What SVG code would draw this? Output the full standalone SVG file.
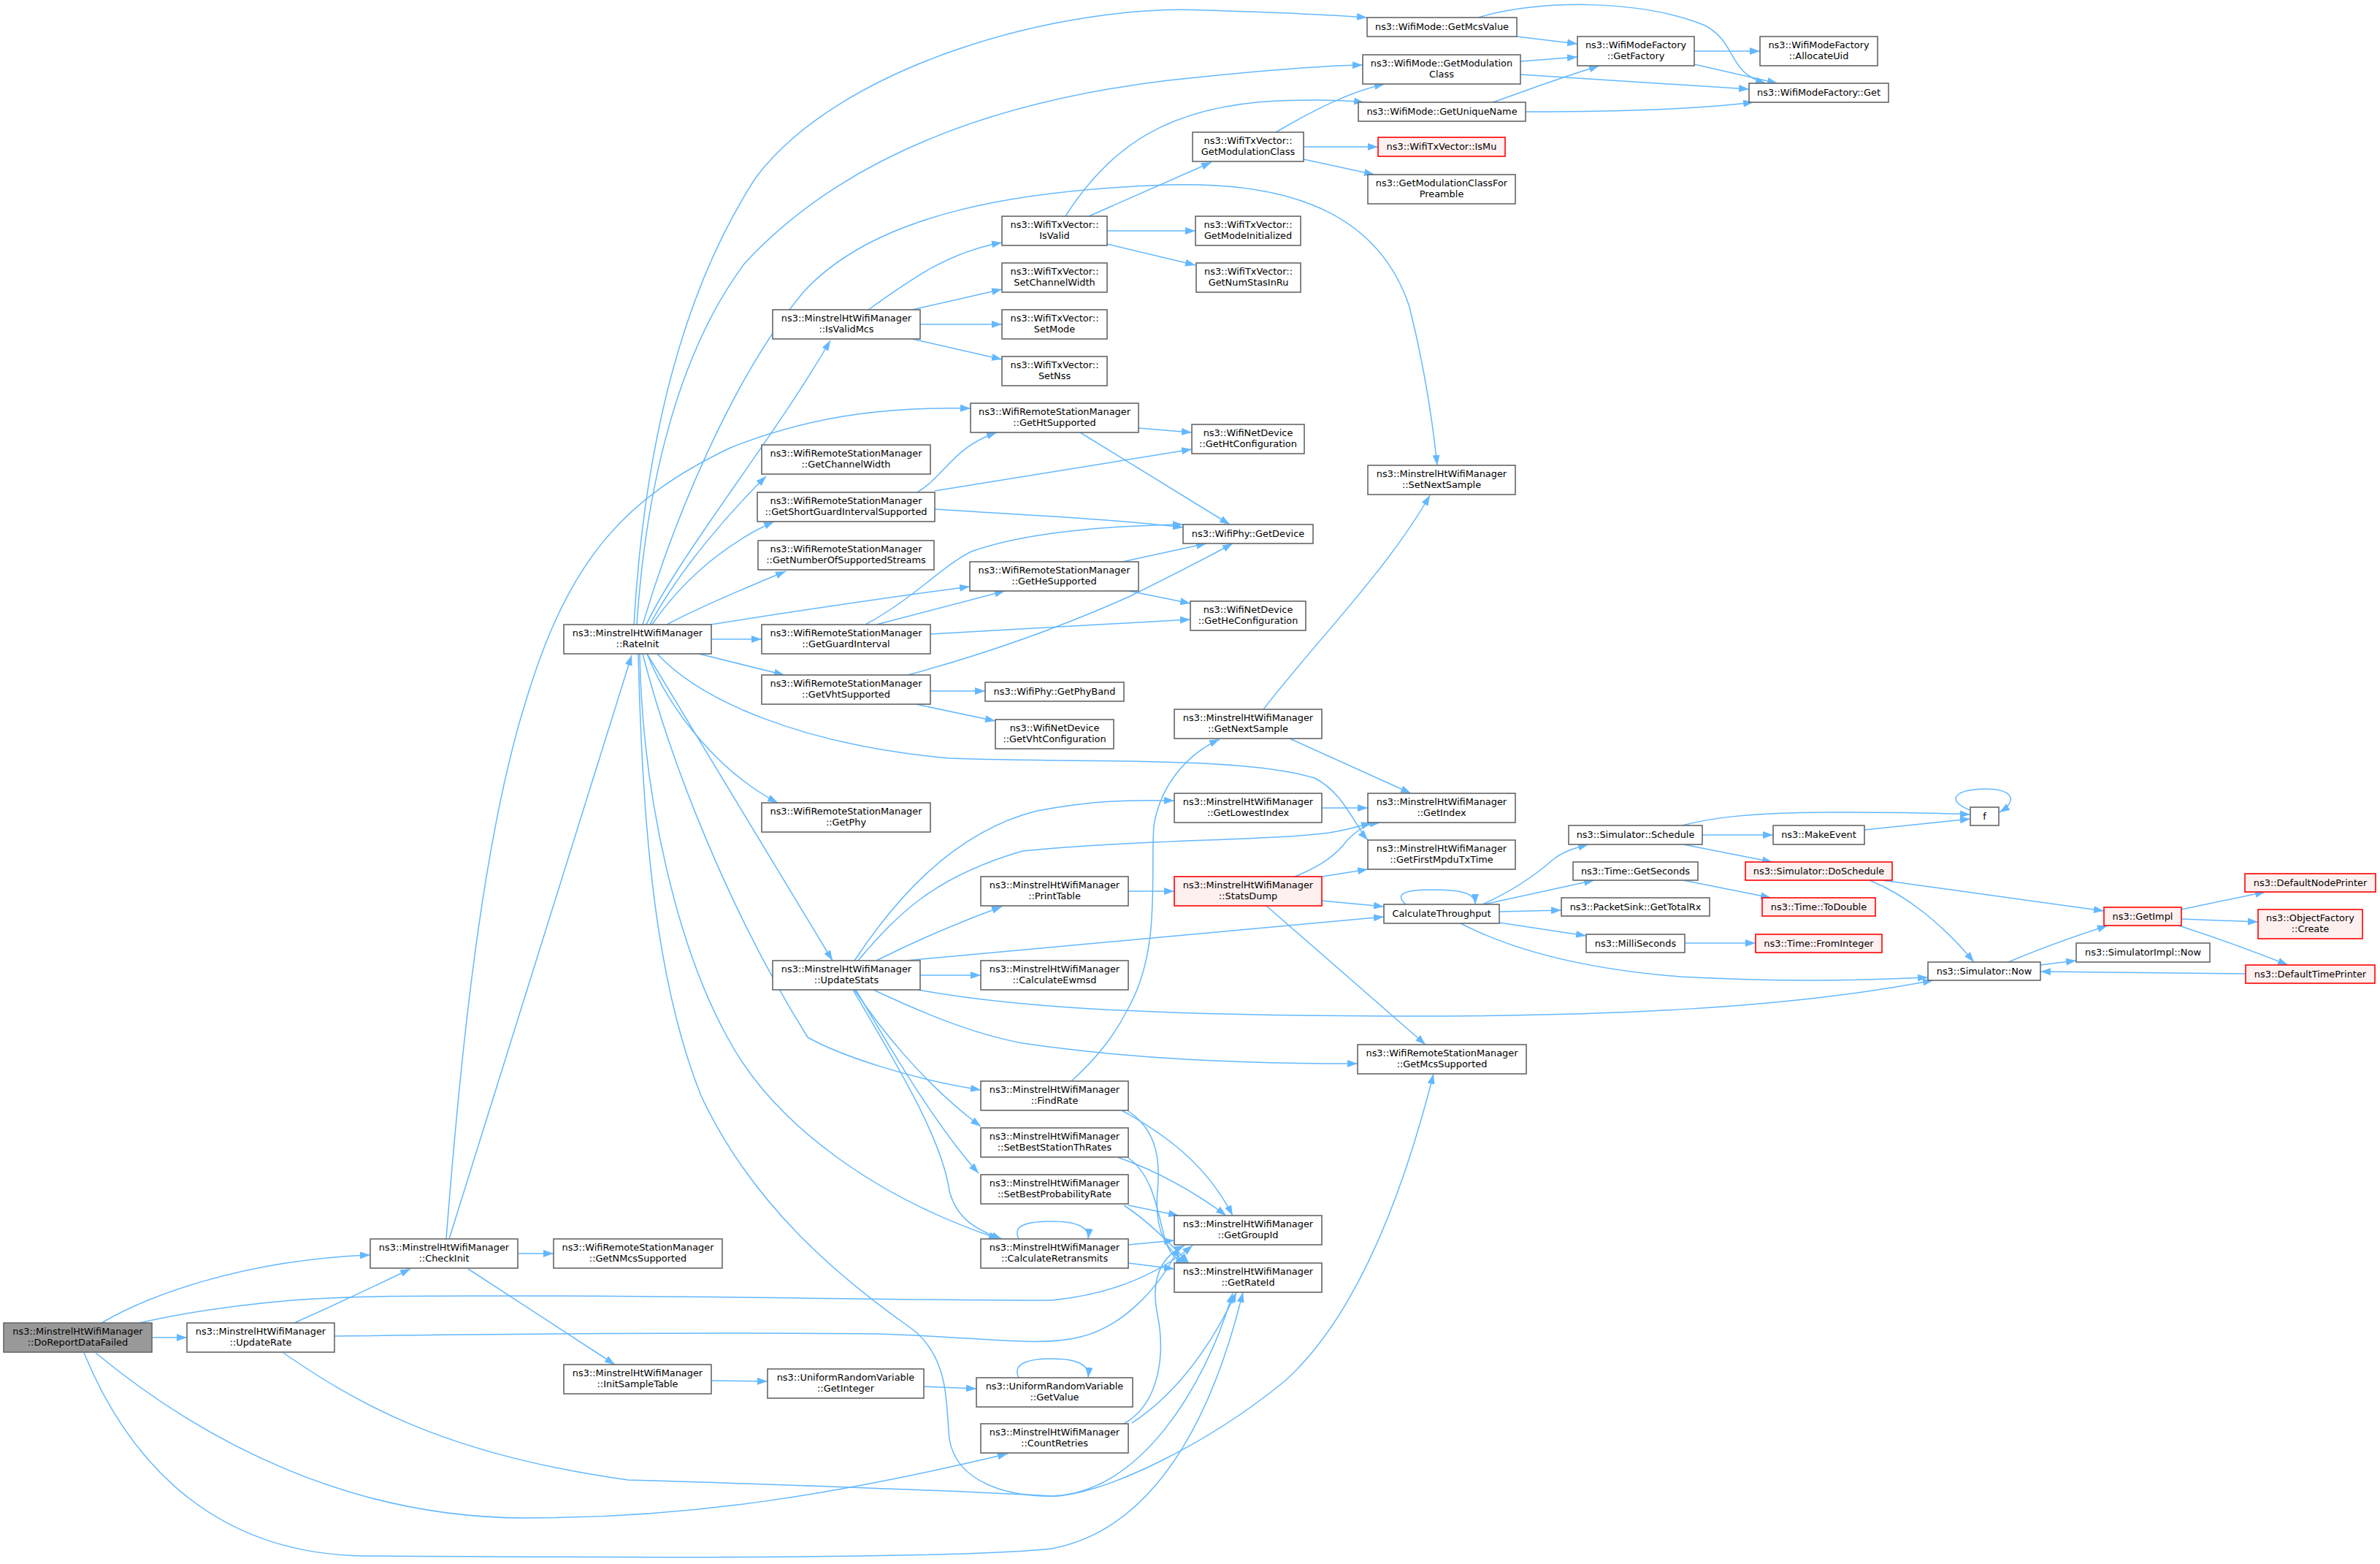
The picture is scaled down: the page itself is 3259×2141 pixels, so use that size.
<svg xmlns="http://www.w3.org/2000/svg" width="3259" height="2141" viewBox="0 0 3259 2141">
<style>
rect{fill:#fff;stroke:#666;stroke-width:1.6}
.r rect{fill:#fff0f0;stroke:#f00}
.g rect{fill:#999}
text{font-family:"DejaVu Sans","Liberation Sans",sans-serif;font-size:12.9px;text-anchor:middle;fill:#000}
#edges path{fill:none;stroke:#63b8ff;stroke-width:1.5;marker-end:url(#a)}
</style>
<defs>
<marker id="a" viewBox="0 0 14 10" refX="14" refY="5" markerWidth="14" markerHeight="10" markerUnits="userSpaceOnUse" orient="auto"><path d="M0,0L14,5L0,10z" fill="#63b8ff"/></marker>
</defs>
<rect x="0" y="0" width="3259" height="2141" style="fill:#fff;stroke:none"/>
<g id="edges">
<path d="M139,1811 C200,1775 330,1725 507,1718"/>
<path d="M208,1831 L256,1831"/>
<path d="M191,1811 C260,1795 330,1786 400,1780 C500,1773 600,1774 720,1774 C1000,1774 1200,1780 1440,1780 C1520,1772 1585,1745 1633,1705"/>
<path d="M131,1852 C280,1975 480,2078 720,2078 C950,2078 1150,2045 1380,1990"/>
<path d="M115,1852 C180,2010 300,2128 500,2130 C800,2132 1300,2135 1440,2120 C1600,2090 1670,1900 1702,1769"/>
<path d="M403,1811 C450,1790 510,1762 562,1737"/>
<path d="M458,1829 C700,1826 1000,1824 1200,1826 C1350,1830 1420,1845 1480,1830 C1540,1815 1590,1760 1615,1706"/>
<path d="M388,1852 C480,1915 600,1990 860,2026 C1000,2030 1300,2040 1440,2048 C1560,2045 1650,1900 1688,1770"/>
<path d="M709,1716 L758,1716"/>
<path d="M641,1737 L842,1868"/>
<path d="M615,1696 L865,897"/>
<path d="M611,1696 C630,1450 660,1150 720,960 C780,760 860,680 1000,613 C1120,565 1230,557 1329,559"/>
<path d="M974,1890 L1051,1891"/>
<path d="M1265,1898 L1337,1901"/>
<path d="M1395,1886 C1385,1866 1410,1860 1440,1860 C1475,1860 1492,1868 1490,1886"/>
<path d="M1539,1949 C1590,1920 1595,1850 1585,1800 C1575,1750 1590,1720 1622,1705"/>
<path d="M1550,1948 C1600,1915 1650,1860 1693,1769"/>
<path d="M868,855 C880,650 920,420 1035,243 C1150,90 1450,5 1650,14 C1750,17 1820,20 1872,24"/>
<path d="M872,855 C885,660 930,480 1020,360 C1150,220 1350,140 1600,110 C1720,97 1800,90 1866,89"/>
<path d="M880,855 C920,720 1000,520 1100,400 C1200,290 1400,260 1600,253 C1780,248 1890,300 1930,420 C1950,500 1962,580 1968,637"/>
<path d="M885,855 C930,760 1060,600 1137,466"/>
<path d="M890,855 C930,780 1000,700 1049,652"/>
<path d="M893,855 C930,800 990,745 1060,714"/>
<path d="M913,855 C960,830 1020,805 1076,782"/>
<path d="M973,855 C1100,835 1200,820 1328,803"/>
<path d="M974,875 L1043,875"/>
<path d="M957,895 L1074,924"/>
<path d="M900,895 C960,960 1100,1020 1300,1038 C1500,1045 1700,1035 1800,1065 C1840,1085 1855,1130 1873,1150"/>
<path d="M886,895 C920,980 990,1060 1065,1099"/>
<path d="M886,895 L1140,1315"/>
<path d="M880,895 C920,1050 1000,1250 1106,1420 C1150,1445 1250,1478 1343,1492"/>
<path d="M876,895 C880,1100 930,1300 996,1420 C1060,1540 1200,1640 1368,1696"/>
<path d="M874,895 C880,1150 900,1350 960,1500 C1030,1650 1150,1750 1250,1820 C1300,1860 1295,1920 1300,1970 C1310,2030 1380,2050 1450,2048 C1520,2040 1650,1980 1760,1890 C1870,1790 1930,1600 1963,1470"/>
<path d="M1256,674 C1295,650 1305,612 1365,592"/>
<path d="M1280,672 L1632,615"/>
<path d="M1280,697 C1400,705 1520,710 1620,722"/>
<path d="M1559,586 L1632,592"/>
<path d="M1479,592 L1684,718"/>
<path d="M1537,769 L1652,744"/>
<path d="M1541,808 L1630,826"/>
<path d="M1200,855 L1376,809"/>
<path d="M1185,855 C1250,820 1290,775 1330,755 C1400,730 1500,720 1620,718"/>
<path d="M1274,868 L1630,848"/>
<path d="M1243,924 C1350,895 1450,860 1550,815 C1610,785 1650,765 1688,744"/>
<path d="M1274,946 L1349,946"/>
<path d="M1254,964 L1363,987"/>
<path d="M1189,424 C1250,380 1300,345 1372,332"/>
<path d="M1249,424 L1372,396"/>
<path d="M1260,444 L1372,444"/>
<path d="M1249,464 L1372,492"/>
<path d="M1491,296 L1659,222"/>
<path d="M1516,316 L1637,316"/>
<path d="M1516,334 L1637,363"/>
<path d="M1459,296 C1520,200 1600,145 1750,138 C1810,136 1840,137 1868,140"/>
<path d="M1747,181 C1800,150 1850,125 1896,115"/>
<path d="M1785,201 L1887,201"/>
<path d="M1785,218 L1882,239"/>
<path d="M2077,50 L2160,60"/>
<path d="M2024,24 C2110,-2 2250,0 2335,35 C2380,60 2365,100 2418,114"/>
<path d="M2082,84 L2160,78"/>
<path d="M2082,102 L2395,122"/>
<path d="M2044,140 C2080,128 2110,115 2190,90"/>
<path d="M2089,153 C2200,153 2320,150 2401,140"/>
<path d="M2320,70 L2410,70"/>
<path d="M2320,88 L2434,114"/>
<path d="M1730,971 C1800,880 1900,780 1958,678"/>
<path d="M1766,1011 L1932,1086"/>
<path d="M1467,1480 C1500,1450 1525,1420 1545,1380 C1590,1300 1575,1200 1580,1130 C1590,1070 1630,1030 1670,1012"/>
<path d="M1810,1106 L1873,1106"/>
<path d="M1545,1220 L1608,1220"/>
<path d="M1773,1200 C1810,1185 1830,1170 1845,1150 C1860,1135 1870,1128 1890,1126"/>
<path d="M1810,1200 L1873,1190"/>
<path d="M1810,1233 L1895,1241"/>
<path d="M1734,1240 L1952,1430"/>
<path d="M1170,1315 C1220,1240 1300,1140 1420,1110 C1500,1095 1550,1095 1608,1096"/>
<path d="M1175,1315 C1230,1250 1280,1200 1400,1165 C1550,1150 1750,1150 1820,1140 C1850,1135 1865,1130 1878,1126"/>
<path d="M1200,1315 C1260,1285 1320,1260 1372,1241"/>
<path d="M1240,1315 L1895,1255"/>
<path d="M1259,1335 L1343,1335"/>
<path d="M1257,1355 C1350,1372 1500,1390 1900,1391 C2200,1392 2450,1380 2647,1342"/>
<path d="M1196,1355 C1260,1385 1330,1415 1400,1428 C1550,1450 1700,1456 1859,1456"/>
<path d="M1170,1355 C1200,1400 1260,1480 1343,1542"/>
<path d="M1172,1355 C1210,1420 1280,1540 1340,1606"/>
<path d="M1168,1355 C1230,1460 1290,1560 1300,1630 C1310,1670 1340,1685 1372,1696"/>
<path d="M1395,1696 C1385,1676 1410,1672 1440,1672 C1475,1672 1492,1680 1490,1696"/>
<path d="M1545,1704 L1608,1698"/>
<path d="M1545,1729 L1608,1737"/>
<path d="M1536,1520 C1590,1550 1650,1590 1688,1664"/>
<path d="M1545,1521 C1580,1545 1590,1580 1585,1630 C1580,1690 1600,1715 1628,1729"/>
<path d="M1530,1584 C1590,1605 1640,1635 1679,1664"/>
<path d="M1545,1585 C1580,1610 1585,1660 1595,1695 C1600,1715 1610,1725 1624,1729"/>
<path d="M1545,1650 L1614,1664"/>
<path d="M1539,1650 C1570,1670 1600,1700 1628,1729"/>
<path d="M1925,1238 C1910,1225 1920,1218 1960,1218 C2000,1218 2020,1222 2020,1238"/>
<path d="M2030,1238 C2070,1220 2100,1200 2125,1178 C2140,1165 2160,1160 2175,1156"/>
<path d="M2032,1238 L2183,1205"/>
<path d="M2053,1248 L2138,1246"/>
<path d="M2053,1263 L2172,1281"/>
<path d="M2000,1264 C2060,1295 2150,1325 2300,1337 C2450,1345 2550,1342 2640,1338"/>
<path d="M2331,1143 L2428,1143"/>
<path d="M2305,1156 L2427,1180"/>
<path d="M2303,1130 C2350,1118 2400,1113 2500,1112 C2600,1112 2650,1113 2698,1115"/>
<path d="M2553,1136 L2698,1121"/>
<path d="M2305,1205 L2425,1229"/>
<path d="M2307,1291 L2404,1291"/>
<path d="M2578,1205 L2881,1247"/>
<path d="M2560,1205 C2610,1225 2660,1265 2703,1317"/>
<path d="M2750,1317 C2790,1300 2840,1282 2886,1267"/>
<path d="M2794,1321 L2843,1315"/>
<path d="M2987,1245 L3102,1221"/>
<path d="M2987,1258 L3092,1262"/>
<path d="M2983,1267 C3030,1282 3080,1300 3133,1321"/>
<path d="M3075,1333 L2794,1330"/>
<path d="M2700,1110 C2660,1095 2680,1080 2718,1080 C2755,1080 2765,1095 2738,1112"/>
</g>
<g id="n_doreport" class="g"><rect x="5" y="1811" width="203" height="40"/><text x="106.5" y="1826.5">ns3::MinstrelHtWifiManager</text><text x="106.5" y="1842">::DoReportDataFailed</text></g>
<g id="n_updaterate"><rect x="256" y="1811" width="202" height="40"/><text x="357" y="1826.5">ns3::MinstrelHtWifiManager</text><text x="357" y="1842">::UpdateRate</text></g>
<g id="n_checkinit"><rect x="507" y="1696" width="202" height="40"/><text x="608" y="1711.5">ns3::MinstrelHtWifiManager</text><text x="608" y="1727">::CheckInit</text></g>
<g id="n_getnmcs"><rect x="758" y="1696" width="231" height="40"/><text x="873.5" y="1711.5">ns3::WifiRemoteStationManager</text><text x="873.5" y="1727">::GetNMcsSupported</text></g>
<g id="n_initsample"><rect x="772" y="1868" width="202" height="40"/><text x="873" y="1883.5">ns3::MinstrelHtWifiManager</text><text x="873" y="1899">::InitSampleTable</text></g>
<g id="n_getinteger"><rect x="1051" y="1874" width="214" height="40"/><text x="1158" y="1889.5">ns3::UniformRandomVariable</text><text x="1158" y="1905">::GetInteger</text></g>
<g id="n_getvalue"><rect x="1337" y="1886" width="214" height="40"/><text x="1444" y="1901.5">ns3::UniformRandomVariable</text><text x="1444" y="1917">::GetValue</text></g>
<g id="n_countretries"><rect x="1343" y="1949" width="202" height="40"/><text x="1444" y="1964.5">ns3::MinstrelHtWifiManager</text><text x="1444" y="1980">::CountRetries</text></g>
<g id="n_rateinit"><rect x="772" y="855" width="202" height="40"/><text x="873" y="870.5">ns3::MinstrelHtWifiManager</text><text x="873" y="886">::RateInit</text></g>
<g id="n_isvalidmcs"><rect x="1058" y="424" width="202" height="40"/><text x="1159" y="439.5">ns3::MinstrelHtWifiManager</text><text x="1159" y="455">::IsValidMcs</text></g>
<g id="n_isvalid"><rect x="1372" y="296" width="144" height="40"/><text x="1444" y="311.5">ns3::WifiTxVector::</text><text x="1444" y="327">IsValid</text></g>
<g id="n_setchw"><rect x="1372" y="360" width="144" height="40"/><text x="1444" y="375.5">ns3::WifiTxVector::</text><text x="1444" y="391">SetChannelWidth</text></g>
<g id="n_setmode"><rect x="1372" y="424" width="144" height="40"/><text x="1444" y="439.5">ns3::WifiTxVector::</text><text x="1444" y="455">SetMode</text></g>
<g id="n_setnss"><rect x="1372" y="488" width="144" height="40"/><text x="1444" y="503.5">ns3::WifiTxVector::</text><text x="1444" y="519">SetNss</text></g>
<g id="n_txgetmod"><rect x="1633" y="181" width="152" height="40"/><text x="1709" y="196.5">ns3::WifiTxVector::</text><text x="1709" y="212">GetModulationClass</text></g>
<g id="n_getmodeinit"><rect x="1637" y="296" width="144" height="40"/><text x="1709" y="311.5">ns3::WifiTxVector::</text><text x="1709" y="327">GetModeInitialized</text></g>
<g id="n_getnumstas"><rect x="1638" y="360" width="143" height="40"/><text x="1709.5" y="375.5">ns3::WifiTxVector::</text><text x="1709.5" y="391">GetNumStasInRu</text></g>
<g id="n_ismu" class="r"><rect x="1887" y="188" width="174" height="26"/><text x="1974" y="205">ns3::WifiTxVector::IsMu</text></g>
<g id="n_getmodpre"><rect x="1873" y="239" width="202" height="40"/><text x="1974" y="254.5">ns3::GetModulationClassFor</text><text x="1974" y="270">Preamble</text></g>
<g id="n_getmcsvalue"><rect x="1872" y="24" width="205" height="26"/><text x="1974.5" y="41">ns3::WifiMode::GetMcsValue</text></g>
<g id="n_wmgetmod"><rect x="1866" y="75" width="216" height="40"/><text x="1974" y="90.5">ns3::WifiMode::GetModulation</text><text x="1974" y="106">Class</text></g>
<g id="n_getunique"><rect x="1860" y="140" width="229" height="26"/><text x="1974.5" y="157">ns3::WifiMode::GetUniqueName</text></g>
<g id="n_getfactory"><rect x="2160" y="50" width="160" height="40"/><text x="2240" y="65.5">ns3::WifiModeFactory</text><text x="2240" y="81">::GetFactory</text></g>
<g id="n_allocuid"><rect x="2410" y="50" width="161" height="40"/><text x="2490.5" y="65.5">ns3::WifiModeFactory</text><text x="2490.5" y="81">::AllocateUid</text></g>
<g id="n_wmfget"><rect x="2395" y="114" width="191" height="26"/><text x="2490.5" y="131">ns3::WifiModeFactory::Get</text></g>
<g id="n_gethtsup"><rect x="1329" y="552" width="230" height="40"/><text x="1444" y="567.5">ns3::WifiRemoteStationManager</text><text x="1444" y="583">::GetHtSupported</text></g>
<g id="n_gethtconf"><rect x="1632" y="581" width="154" height="40"/><text x="1709" y="596.5">ns3::WifiNetDevice</text><text x="1709" y="612">::GetHtConfiguration</text></g>
<g id="n_getchw"><rect x="1043" y="609" width="231" height="40"/><text x="1158.5" y="624.5">ns3::WifiRemoteStationManager</text><text x="1158.5" y="640">::GetChannelWidth</text></g>
<g id="n_getsgi"><rect x="1037" y="674" width="243" height="40"/><text x="1158.5" y="689.5">ns3::WifiRemoteStationManager</text><text x="1158.5" y="705">::GetShortGuardIntervalSupported</text></g>
<g id="n_getnss"><rect x="1038" y="740" width="241" height="40"/><text x="1158.5" y="755.5">ns3::WifiRemoteStationManager</text><text x="1158.5" y="771">::GetNumberOfSupportedStreams</text></g>
<g id="n_gethesup"><rect x="1328" y="769" width="231" height="40"/><text x="1443.5" y="784.5">ns3::WifiRemoteStationManager</text><text x="1443.5" y="800">::GetHeSupported</text></g>
<g id="n_getdevice"><rect x="1620" y="718" width="178" height="26"/><text x="1709" y="735">ns3::WifiPhy::GetDevice</text></g>
<g id="n_getheconf"><rect x="1630" y="823" width="158" height="40"/><text x="1709" y="838.5">ns3::WifiNetDevice</text><text x="1709" y="854">::GetHeConfiguration</text></g>
<g id="n_getgi"><rect x="1043" y="855" width="231" height="40"/><text x="1158.5" y="870.5">ns3::WifiRemoteStationManager</text><text x="1158.5" y="886">::GetGuardInterval</text></g>
<g id="n_getvhtsup"><rect x="1043" y="924" width="231" height="40"/><text x="1158.5" y="939.5">ns3::WifiRemoteStationManager</text><text x="1158.5" y="955">::GetVhtSupported</text></g>
<g id="n_getphyband"><rect x="1349" y="934" width="190" height="26"/><text x="1444" y="951">ns3::WifiPhy::GetPhyBand</text></g>
<g id="n_getvhtconf"><rect x="1363" y="985" width="162" height="40"/><text x="1444" y="1000.5">ns3::WifiNetDevice</text><text x="1444" y="1016">::GetVhtConfiguration</text></g>
<g id="n_getphy"><rect x="1043" y="1099" width="231" height="40"/><text x="1158.5" y="1114.5">ns3::WifiRemoteStationManager</text><text x="1158.5" y="1130">::GetPhy</text></g>
<g id="n_setnextsample"><rect x="1873" y="637" width="202" height="40"/><text x="1974" y="652.5">ns3::MinstrelHtWifiManager</text><text x="1974" y="668">::SetNextSample</text></g>
<g id="n_getnextsample"><rect x="1608" y="971" width="202" height="40"/><text x="1709" y="986.5">ns3::MinstrelHtWifiManager</text><text x="1709" y="1002">::GetNextSample</text></g>
<g id="n_getindex"><rect x="1873" y="1086" width="202" height="40"/><text x="1974" y="1101.5">ns3::MinstrelHtWifiManager</text><text x="1974" y="1117">::GetIndex</text></g>
<g id="n_getlowest"><rect x="1608" y="1086" width="202" height="40"/><text x="1709" y="1101.5">ns3::MinstrelHtWifiManager</text><text x="1709" y="1117">::GetLowestIndex</text></g>
<g id="n_getfirst"><rect x="1873" y="1150" width="202" height="40"/><text x="1974" y="1165.5">ns3::MinstrelHtWifiManager</text><text x="1974" y="1181">::GetFirstMpduTxTime</text></g>
<g id="n_printtable"><rect x="1343" y="1200" width="202" height="40"/><text x="1444" y="1215.5">ns3::MinstrelHtWifiManager</text><text x="1444" y="1231">::PrintTable</text></g>
<g id="n_statsdump" class="r"><rect x="1608" y="1200" width="202" height="40"/><text x="1709" y="1215.5">ns3::MinstrelHtWifiManager</text><text x="1709" y="1231">::StatsDump</text></g>
<g id="n_calcthr"><rect x="1895" y="1238" width="158" height="26"/><text x="1974" y="1255">CalculateThroughput</text></g>
<g id="n_calcewmsd"><rect x="1343" y="1315" width="202" height="40"/><text x="1444" y="1330.5">ns3::MinstrelHtWifiManager</text><text x="1444" y="1346">::CalculateEwmsd</text></g>
<g id="n_updatestats"><rect x="1058" y="1315" width="202" height="40"/><text x="1159" y="1330.5">ns3::MinstrelHtWifiManager</text><text x="1159" y="1346">::UpdateStats</text></g>
<g id="n_schedule"><rect x="2148" y="1130" width="183" height="26"/><text x="2239.5" y="1147">ns3::Simulator::Schedule</text></g>
<g id="n_makeevent"><rect x="2428" y="1130" width="125" height="26"/><text x="2490.5" y="1147">ns3::MakeEvent</text></g>
<g id="n_f"><rect x="2698" y="1105" width="39" height="25"/><text x="2717.5" y="1121.5">f</text></g>
<g id="n_doschedule" class="r"><rect x="2390" y="1180" width="201" height="25"/><text x="2490.5" y="1196.5">ns3::Simulator::DoSchedule</text></g>
<g id="n_getseconds"><rect x="2154" y="1180" width="171" height="25"/><text x="2239.5" y="1196.5">ns3::Time::GetSeconds</text></g>
<g id="n_todouble" class="r"><rect x="2413" y="1229" width="155" height="25"/><text x="2490.5" y="1245.5">ns3::Time::ToDouble</text></g>
<g id="n_gettotalrx"><rect x="2138" y="1229" width="203" height="25"/><text x="2239.5" y="1245.5">ns3::PacketSink::GetTotalRx</text></g>
<g id="n_milli"><rect x="2172" y="1279" width="135" height="25"/><text x="2239.5" y="1295.5">ns3::MilliSeconds</text></g>
<g id="n_frominteger" class="r"><rect x="2404" y="1279" width="173" height="25"/><text x="2490.5" y="1295.5">ns3::Time::FromInteger</text></g>
<g id="n_simnow"><rect x="2640" y="1317" width="154" height="25"/><text x="2717" y="1333.5">ns3::Simulator::Now</text></g>
<g id="n_simimplnow"><rect x="2843" y="1291" width="183" height="26"/><text x="2934.5" y="1308">ns3::SimulatorImpl::Now</text></g>
<g id="n_getimpl" class="r"><rect x="2881" y="1242" width="106" height="25"/><text x="2934" y="1258.5">ns3::GetImpl</text></g>
<g id="n_defnode" class="r"><rect x="3074" y="1196" width="179" height="25"/><text x="3163.5" y="1212.5">ns3::DefaultNodePrinter</text></g>
<g id="n_objcreate" class="r"><rect x="3092" y="1245" width="143" height="40"/><text x="3163.5" y="1260.5">ns3::ObjectFactory</text><text x="3163.5" y="1276">::Create</text></g>
<g id="n_deftime" class="r"><rect x="3075" y="1321" width="177" height="25"/><text x="3163.5" y="1337.5">ns3::DefaultTimePrinter</text></g>
<g id="n_getmcssup"><rect x="1859" y="1430" width="231" height="40"/><text x="1974.5" y="1445.5">ns3::WifiRemoteStationManager</text><text x="1974.5" y="1461">::GetMcsSupported</text></g>
<g id="n_findrate"><rect x="1343" y="1480" width="202" height="40"/><text x="1444" y="1495.5">ns3::MinstrelHtWifiManager</text><text x="1444" y="1511">::FindRate</text></g>
<g id="n_setbeststa"><rect x="1343" y="1544" width="202" height="40"/><text x="1444" y="1559.5">ns3::MinstrelHtWifiManager</text><text x="1444" y="1575">::SetBestStationThRates</text></g>
<g id="n_setbestprob"><rect x="1343" y="1608" width="202" height="40"/><text x="1444" y="1623.5">ns3::MinstrelHtWifiManager</text><text x="1444" y="1639">::SetBestProbabilityRate</text></g>
<g id="n_calcretrans"><rect x="1343" y="1696" width="202" height="40"/><text x="1444" y="1711.5">ns3::MinstrelHtWifiManager</text><text x="1444" y="1727">::CalculateRetransmits</text></g>
<g id="n_getgroupid"><rect x="1608" y="1664" width="202" height="40"/><text x="1709" y="1679.5">ns3::MinstrelHtWifiManager</text><text x="1709" y="1695">::GetGroupId</text></g>
<g id="n_getrateid"><rect x="1608" y="1729" width="202" height="40"/><text x="1709" y="1744.5">ns3::MinstrelHtWifiManager</text><text x="1709" y="1760">::GetRateId</text></g>
</svg>
